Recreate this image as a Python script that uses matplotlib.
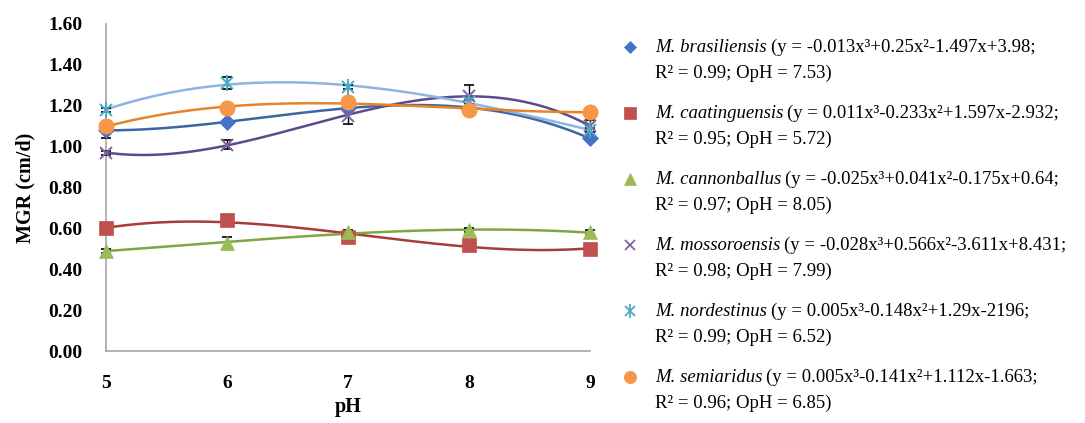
import numpy as np
import matplotlib
matplotlib.use("Agg")
import matplotlib.pyplot as plt
from matplotlib.lines import Line2D

# ---------------- data ----------------
ph = [5, 6, 7, 8, 9]
species = ["M. brasiliensis", "M. caatinguensis", "M. cannonballus",
           "M. mossoroensis", "M. nordestinus", "M. semiaridus"]
brasiliensis = [1.08, 1.12, 1.19, 1.19, 1.04]
caatinguensis = [0.60, 0.64, 0.56, 0.52, 0.50]
cannonballus = [0.49, 0.53, 0.58, 0.59, 0.58]
mossoroensis = [0.97, 1.01, 1.15, 1.25, 1.10]
nordestinus = [1.18, 1.31, 1.29, 1.22, 1.08]
semiaridus = [1.10, 1.19, 1.22, 1.18, 1.17]
err_brasiliensis = [0.04, 0.01, 0.01, 0.01, 0.01]
err_caatinguensis = [0.01, 0.01, 0.01, 0.01, 0.01]
err_cannonballus = [0.01, 0.03, 0.01, 0.01, 0.01]
err_mossoroensis = [0.01, 0.02, 0.04, 0.05, 0.03]
err_nordestinus = [0.01, 0.03, 0.01, 0.01, 0.01]
err_semiaridus = [0.01, 0.01, 0.01, 0.01, 0.01]
equations = ["(y = -0.013x³+0.25x²-1.497x+3.98;",
             "(y = 0.011x³-0.233x²+1.597x-2.932;",
             "(y = -0.025x³+0.041x²-0.175x+0.64;",
             "(y = -0.028x³+0.566x²-3.611x+8.431;",
             "(y = 0.005x³-0.148x²+1.29x-2196;",
             "(y = 0.005x³-0.141x²+1.112x-1.663;"]
stats = ["R² = 0.99; OpH = 7.53)", "R² = 0.95; OpH = 5.72)",
         "R² = 0.97; OpH = 8.05)", "R² = 0.98; OpH = 7.99)",
         "R² = 0.99; OpH = 6.52)", "R² = 0.96; OpH = 6.85)"]
yticks = [0.0, 0.2, 0.4, 0.6, 0.8, 1.0, 1.2, 1.4, 1.6]

series = [brasiliensis, caatinguensis, cannonballus, mossoroensis, nordestinus, semiaridus]
errors = [err_brasiliensis, err_caatinguensis, err_cannonballus,
          err_mossoroensis, err_nordestinus, err_semiaridus]

# ---------------- style ----------------
markers = ["D", "s", "^", "x", "x", "o"]
extra = [None, None, None, None, "|", None]   # star marker = x + vertical bar
msizes = [8, 10, 10, 9, 9, 11]
mcolors = ["#4472C4", "#C0504D", "#9BBB59", "#8064A2", "#4BACC6", "#F79646"]
lcolors = ["#3E65A3", "#A83B3B", "#7FA544", "#5E4A8A", "#8DB4E2", "#E8832A"]

plt.rcParams["font.family"] = ["Liberation Serif", "DejaVu Serif"]

fig = plt.figure(figsize=(10.85, 4.23), dpi=100)
W, H = 1085, 423
ax = fig.add_axes([106 / W, 1 - 351 / H, (590 - 106) / W, (351 - 24) / H])

xs = np.linspace(min(ph), max(ph), 200)
for i, (vals, errs) in enumerate(zip(series, errors)):
    coef = np.polyfit(ph, vals, 3)
    ax.plot(xs, np.polyval(coef, xs), color=lcolors[i], lw=1.8, zorder=2, clip_on=False)
    ax.errorbar(ph, vals, yerr=errs, fmt="none", ecolor="black", elinewidth=1,
                capsize=3.5, capthick=1.2, zorder=3, clip_on=False)
    mew = 1.4 if markers[i] == "x" else 0.5
    ax.plot(ph, vals, linestyle="none", marker=markers[i], ms=msizes[i],
            color=mcolors[i], markeredgecolor=mcolors[i], mew=mew, zorder=4 + i,
            clip_on=False)
    if extra[i]:
        ax.plot(ph, vals, linestyle="none", marker=extra[i], ms=msizes[i] * 1.3,
                color=mcolors[i], mew=1.4, zorder=4 + i, clip_on=False)

ax.set_xlim(5, 9)
ax.set_ylim(0, 1.6)
ax.set_xticks(ph)
ax.set_yticks(yticks)
ax.set_yticklabels([f"{v:.2f}" for v in yticks])
for s in ["top", "right"]:
    ax.spines[s].set_visible(False)
for s in ["left", "bottom"]:
    ax.spines[s].set_color("#A6A6A6")
    ax.spines[s].set_linewidth(1.2)
ax.tick_params(axis="y", length=0, pad=17, labelsize=14)
ax.tick_params(axis="x", length=0, pad=17, labelsize=14)
for lab in ax.get_xticklabels() + ax.get_yticklabels():
    lab.set_fontweight("bold")
ax.set_ylabel("MGR (cm/d)", fontsize=14.5, fontweight="bold", labelpad=9)
ax.set_xlabel("pH", fontsize=14.5, fontweight="bold", labelpad=4)

# ---------------- legend (drawn at the right) ----------------
renderer = fig.canvas.get_renderer()
fs = 13.5
mk_x = 630 / W
tx_x = 655 / W
for i in range(len(species)):
    y1 = 47 + 66 * i
    y2 = y1 + 26
    fig.add_artist(Line2D([mk_x], [1 - y1 / H], transform=fig.transFigure,
                          marker=markers[i], ms=msizes[i] * 0.8, color=mcolors[i],
                          mew=1.3 if markers[i] == "x" else 0.5, linestyle="none"))
    if extra[i]:
        fig.add_artist(Line2D([mk_x], [1 - y1 / H], transform=fig.transFigure,
                              marker=extra[i], ms=msizes[i] * 1.05, color=mcolors[i],
                              mew=1.3, linestyle="none"))
    t = fig.text(tx_x, 1 - y1 / H, species[i], style="italic", fontsize=fs, va="center")
    bb = t.get_window_extent(renderer)
    fig.text(bb.x1 / W + 4 / W, 1 - y1 / H, equations[i], fontsize=fs, va="center")
    fig.text(tx_x, 1 - y2 / H, stats[i], fontsize=fs, va="center")

fig.savefig("out.png", dpi=100)
